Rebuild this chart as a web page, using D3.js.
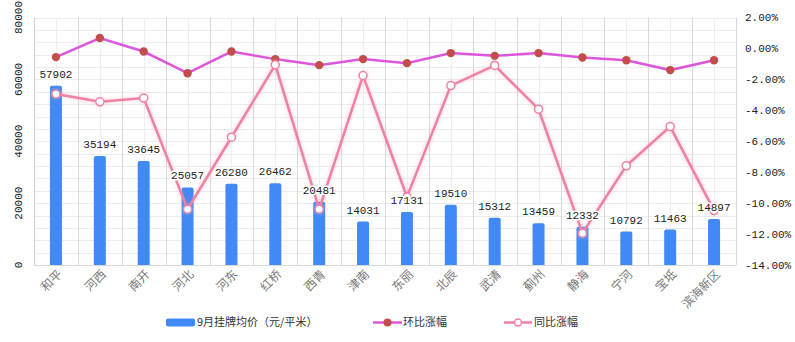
<!DOCTYPE html>
<html><head><meta charset="utf-8">
<script src="https://cdn.jsdelivr.net/npm/d3@7"></script>
<style>body{margin:0;background:#fff}svg{display:block}</style>
</head><body><svg id="c" width="795" height="342"></svg>
<script>
const categories = ["和平","河西","南开","河北","河东","红桥","西青","津南","东丽","北辰","武清","蓟州","静海","宁河","宝坻","滨海新区"];
const price = [57902,35194,33645,25057,26280,26462,20481,14031,17131,19510,15312,13459,12332,10792,11463,14897];
const mom = [-0.56,0.67,-0.2,-1.6,-0.2,-0.69,-1.08,-0.69,-0.95,-0.3,-0.48,-0.3,-0.59,-0.76,-1.4,-0.76];
const yoy = [-2.95,-3.45,-3.21,-10.39,-5.74,-1.06,-10.39,-1.75,-9.6,-2.4,-1.1,-3.93,-11.95,-7.59,-5.05,-10.48];
const leftTicks = [0,20000,40000,60000,80000];
const rightTicks = [2,0,-2,-4,-6,-8,-10,-12,-14];
const seriesNames = ["9月挂牌均价（元/平米）","环比涨幅","同比涨幅"];

const svg = d3.select("#c");
const X0=34, X1=736, Y0=17.5, Y1=265;
const x = d3.scaleBand().domain(categories).range([X0,X1]);
const yL = d3.scaleLinear().domain([0,80000]).range([Y1,Y0]);
const yR = d3.scaleLinear().domain([-14,2]).range([Y1,Y0]);
const monoFont = "'Liberation Mono', monospace";
const cjk = "'Noto Sans CJK SC', sans-serif";

const defs = svg.append("defs");
const f = defs.append("filter").attr("id","glow").attr("x","-20%").attr("y","-20%").attr("width","140%").attr("height","140%");
f.append("feGaussianBlur").attr("in","SourceGraphic").attr("stdDeviation",2.2).attr("result","b");
f.append("feComponentTransfer").attr("in","b").attr("result","b2").append("feFuncA").attr("type","linear").attr("slope",0.45);
const m = f.append("feMerge"); m.append("feMergeNode").attr("in","b2"); m.append("feMergeNode").attr("in","SourceGraphic");

// grid horizontal
const g = svg.append("g");
d3.range(0,80001,4000).forEach(v=>{
  g.append("line").attr("x1",X0).attr("x2",X1).attr("y1",Math.round(yL(v))+0.5).attr("y2",Math.round(yL(v))+0.5)
   .attr("stroke","#ececec").attr("stroke-width",1);
});
categories.forEach(c=>{
  const cx = Math.round(x(c)+x.bandwidth()/2)+0.5;
  g.append("line").attr("x1",cx).attr("x2",cx).attr("y1",Y0).attr("y2",Y1).attr("stroke","#efefef");
});
categories.forEach((c,i)=>{
  const bx = Math.round(x(c)+x.bandwidth())+0.5;
  g.append("line").attr("x1",bx).attr("x2",bx).attr("y1",Y0).attr("y2",Y1).attr("stroke","#d9d9d9");
});
g.append("line").attr("x1",X0+0.5).attr("x2",X0+0.5).attr("y1",Y0).attr("y2",Y1).attr("stroke","#d0d0d0");
g.append("line").attr("x1",X0).attr("x2",X1).attr("y1",Y1+0.5).attr("y2",Y1+0.5).attr("stroke","#d9d9d9");

leftTicks.forEach(v=>{
  svg.append("text").attr("transform",`translate(22,${yL(v)}) rotate(-90)`).attr("text-anchor","middle")
    .attr("font-family",monoFont).attr("font-size",11).attr("fill","#222").text(v);
});
rightTicks.forEach(v=>{
  svg.append("text").attr("x",745).attr("y",yR(v)).attr("dy","0.35em")
    .attr("font-family",monoFont).attr("font-size",11).attr("fill","#222").text(v.toFixed(2)+"%");
});

const bw = 12;
svg.append("g").selectAll("path").data(price).join("path")
  .attr("d",(d,i)=>{
    const cx = x(categories[i])+x.bandwidth()/2, l=cx-bw/2, r=cx+bw/2, t=yL(d), b=yL(0), rr=2;
    return `M${l},${b}V${t+rr}Q${l},${t} ${l+rr},${t}H${r-rr}Q${r},${t} ${r},${t+rr}V${b}Z`;
  }).attr("fill","#4189f5");

const cxOf = i=> x(categories[i])+x.bandwidth()/2;
svg.append("path").datum(mom).attr("d",d3.line().x((d,i)=>cxOf(i)).y(d=>yR(d)))
  .attr("fill","none").attr("stroke","#dc57dc").attr("stroke-width",2.5);
svg.append("g").selectAll("circle").data(mom).join("circle")
  .attr("cx",(d,i)=>cxOf(i)).attr("cy",d=>yR(d)).attr("r",4.2).attr("fill","#c24e4b");

const yg = svg.append("g").attr("filter","url(#glow)");
yg.append("path").datum(yoy).attr("d",d3.line().x((d,i)=>cxOf(i)).y(d=>yR(d)))
  .attr("fill","none").attr("stroke","#ef82a3").attr("stroke-width",2.5);
yg.selectAll("circle").data(yoy).join("circle")
  .attr("cx",(d,i)=>cxOf(i)).attr("cy",d=>yR(d)).attr("r",4).attr("fill","#fff").attr("stroke","#ef82a3").attr("stroke-width",1.5);

svg.append("g").selectAll("text").data(price).join("text")
  .attr("x",(d,i)=>cxOf(i)).attr("y",d=>yL(d)-8).attr("text-anchor","middle")
  .attr("font-family",monoFont).attr("font-size",11).attr("fill","#222")
  .attr("stroke","#fff").attr("stroke-width",3).attr("paint-order","stroke").attr("stroke-linejoin","round")
  .text(d=>d);

categories.forEach((c,i)=>{
  svg.append("text").attr("transform",`translate(${cxOf(i)+4},${272}) rotate(-45)`).attr("text-anchor","end")
    .attr("dy","0.35em").attr("font-family",cjk).attr("font-size",12).attr("fill","#777").text(c);
});

const ly = 322.5;
svg.append("rect").attr("x",166).attr("y",ly-4).attr("width",29).attr("height",8).attr("rx",2).attr("fill","#4189f5");
svg.append("text").attr("x",197).attr("y",ly).attr("dy","0.35em").attr("font-family",cjk).attr("font-size",11).attr("fill","#333").text(seriesNames[0]);
svg.append("line").attr("x1",373).attr("x2",402).attr("y1",ly).attr("y2",ly).attr("stroke","#dc57dc").attr("stroke-width",2.5);
svg.append("circle").attr("cx",387.5).attr("cy",ly).attr("r",4).attr("fill","#c24e4b");
svg.append("text").attr("x",403).attr("y",ly).attr("dy","0.35em").attr("font-family",cjk).attr("font-size",11).attr("fill","#333").text(seriesNames[1]);
svg.append("line").attr("x1",504).attr("x2",532).attr("y1",ly).attr("y2",ly).attr("stroke","#ef82a3").attr("stroke-width",2.5);
svg.append("circle").attr("cx",518).attr("cy",ly).attr("r",3.5).attr("fill","#fff").attr("stroke","#ef82a3").attr("stroke-width",1.5);
svg.append("text").attr("x",534).attr("y",ly).attr("dy","0.35em").attr("font-family",cjk).attr("font-size",11).attr("fill","#333").text(seriesNames[2]);
</script></body></html>
